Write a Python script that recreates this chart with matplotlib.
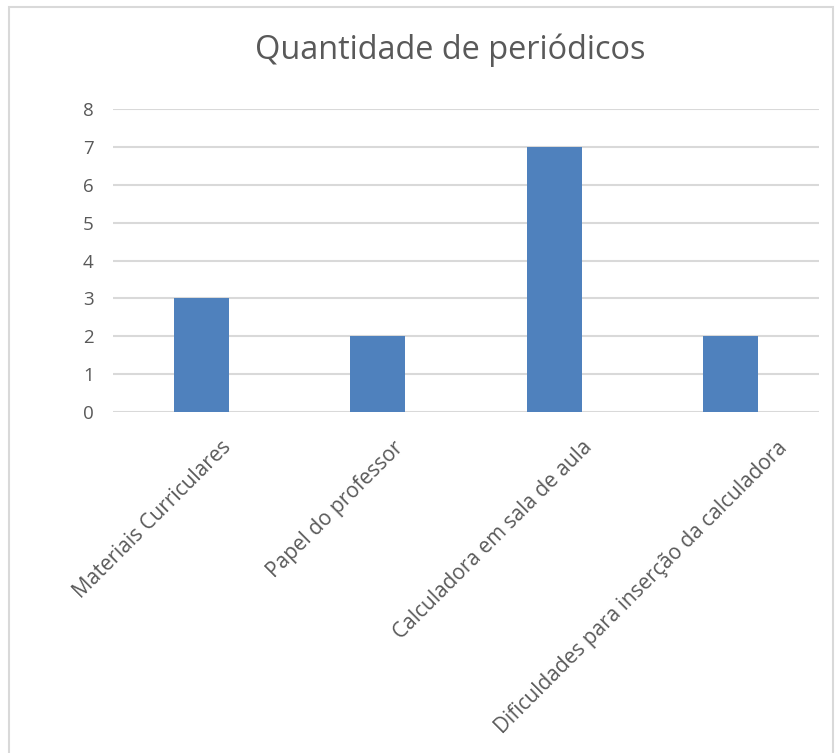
import matplotlib.pyplot as plt
import matplotlib.transforms as mtransforms
from matplotlib.patches import Rectangle

categorias = ['Materiais Curriculares', 'Papel do professor',
              'Calculadora em sala de aula',
              'Dificuldades para inserção da calculadora']
quantidades = [3, 2, 7, 2]
yticks = [0, 1, 2, 3, 4, 5, 6, 7, 8]

plt.rcParams['font.family'] = ['Open Sans', 'DejaVu Sans']
W, H = 837, 753
fig = plt.figure(figsize=(W / 100, H / 100), dpi=100)

# chart frame (bottom runs off the image)
fig.patches.append(Rectangle((9 / W, -0.05), (833 - 9) / W, (H - 7) / H + 0.05,
                             transform=fig.transFigure, fill=False,
                             edgecolor='#d9d9d9', linewidth=1.5))

ax = fig.add_axes([113 / W, 1 - 412 / H, (819 - 113) / W, (412 - 109) / H])
x = range(len(categorias))
ax.bar(x, quantidades, width=0.31, color='#4f81bd', zorder=3)
ax.set_xlim(-0.5, len(categorias) - 0.5)
ax.set_ylim(0, 8)
ax.set_yticks(yticks)
ax.yaxis.grid(True, color='#d9d9d9', linewidth=1.5, zorder=0)
for s in ax.spines.values():
    s.set_visible(False)
ax.tick_params(length=0, colors='#595959')
ax.tick_params(axis='y', pad=14, labelsize=13.5)
ax.set_xticks(list(x))
ax.set_xticklabels(categorias, rotation=45, ha='right', rotation_mode='anchor')
ax.tick_params(axis='x', pad=18, labelsize=15)

# Excel-style placement: longer rotated labels sit further right of the tick
fig.canvas.draw()
r = fig.canvas.get_renderer()
for lab in ax.get_xticklabels():
    w = lab.get_window_extent(r).width
    lab.set_transform(lab.get_transform() +
                      mtransforms.Affine2D().translate(0.196 * w - 13, 0))

fig.text(450 / W, 1 - 50 / H, 'Quantidade de periódicos', ha='center', va='center',
         fontsize=23.4, color='#595959')

fig.savefig('out.png', dpi=100)
